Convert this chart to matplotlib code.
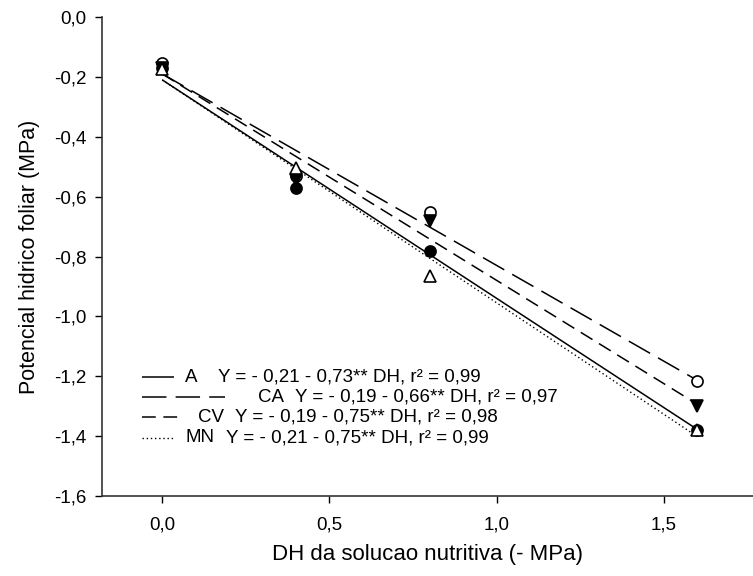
"""Leaf water potential vs. osmotic potential of the nutrient solution."""

import matplotlib

matplotlib.use("Agg")
import matplotlib.pyplot as plt
import numpy as np
from matplotlib.ticker import FuncFormatter

plt.rcParams["font.family"] = ["Liberation Sans", "DejaVu Sans"]

# Data
dh = [0.0, 0.4, 0.8, 1.6]
psi_a = [-0.17, -0.57, -0.78, -1.38]
psi_ca = [-0.155, -0.53, -0.65, -1.215]
psi_cv = [-0.17, -0.545, -0.683, -1.30]
psi_mn = [-0.175, -0.505, -0.865, -1.38]

# fitted lines (intercept, slope) as drawn in the figure
fit_a = (-0.21, -0.73)
fit_ca = (-0.19, -0.64)
fit_cv = (-0.19, -0.69)
fit_mn = (-0.21, -0.745)

legend_names = ["A", "CA", "CV", "MN"]
legend_eqs = [
    "Y = - 0,21 - 0,73** DH, r² = 0,99",
    "Y = - 0,19 - 0,66** DH, r² = 0,97",
    "Y = - 0,19 - 0,75** DH, r² = 0,98",
    "Y = - 0,21 - 0,75** DH, r² = 0,99",
]

y_ticks = np.round(np.arange(-1.6, 0.01, 0.2), 1)
x_ticks = [0.0, 0.5, 1.0, 1.5]


def comma(v, _pos):
    if abs(v) < 1e-9:
        v = 0.0
    return f"{v:.1f}".replace(".", ",")


fig = plt.figure(figsize=(7.53, 5.76), dpi=100)
ax = fig.add_axes([102 / 753, 80 / 576, 651 / 753, 479 / 576])

series = [
    (psi_a, fit_a, "o", "black", (0, ()), 1.1),
    (psi_ca, fit_ca, "o", "white", (0, (16, 6)), 1.1),
    (psi_cv, fit_cv, "v", "black", (0, (9, 5)), 1.1),
    (psi_mn, fit_mn, "^", "white", (0, (1, 2)), 1.0),
]

x_fit = np.array([dh[0], dh[-1]])
for vals, (b0, b1), mk, fc, ls, lw in series:
    ax.plot(x_fit, b0 + b1 * x_fit, color="black", linestyle=ls, linewidth=lw, zorder=2)
for vals, (b0, b1), mk, fc, ls, lw in series:
    ax.plot(dh, vals, linestyle="none", marker=mk, markersize=8,
            markerfacecolor=fc, markeredgecolor="black", markeredgewidth=1.2, zorder=3)

# legend drawn by hand to keep the original spacing
leg_rows = [0.248, 0.206, 0.164, 0.122]
leg_line_end = [0.110, 0.189, 0.120, 0.110]
leg_name_x = [0.128, 0.240, 0.148, 0.128]
leg_eq_x = [0.178, 0.297, 0.204, 0.190]
for i, (vals, fit, mk, fc, ls, lw) in enumerate(series):
    ax.plot([0.062, leg_line_end[i]], [leg_rows[i]] * 2, transform=ax.transAxes,
            color="black", linestyle=ls, linewidth=lw, clip_on=False)
    ax.text(leg_name_x[i], leg_rows[i], legend_names[i], transform=ax.transAxes,
            va="center", ha="left", fontsize=13.5)
    ax.text(leg_eq_x[i], leg_rows[i], legend_eqs[i], transform=ax.transAxes,
            va="center", ha="left", fontsize=13.5)

ax.set_xlim(-0.18, 1.766)
ax.set_ylim(-1.6, 0.0)
ax.set_xticks(x_ticks)
ax.set_yticks(y_ticks)
ax.xaxis.set_major_formatter(FuncFormatter(comma))
ax.yaxis.set_major_formatter(FuncFormatter(comma))
ax.tick_params(direction="out", length=5, width=1, labelsize=13.5, colors="black")
ax.tick_params(axis="x", pad=10)
ax.tick_params(axis="y", pad=6)

for side in ["top", "right"]:
    ax.spines[side].set_visible(False)
for side in ["left", "bottom"]:
    ax.spines[side].set_linewidth(1.2)
    ax.spines[side].set_color("#333333")

ax.set_xlabel("DH da solucao nutritiva (- MPa)", fontsize=16, labelpad=7)
ax.set_ylabel("Potencial hidrico foliar (MPa)", fontsize=15.5, labelpad=10)

fig.savefig("out.png", dpi=100)
